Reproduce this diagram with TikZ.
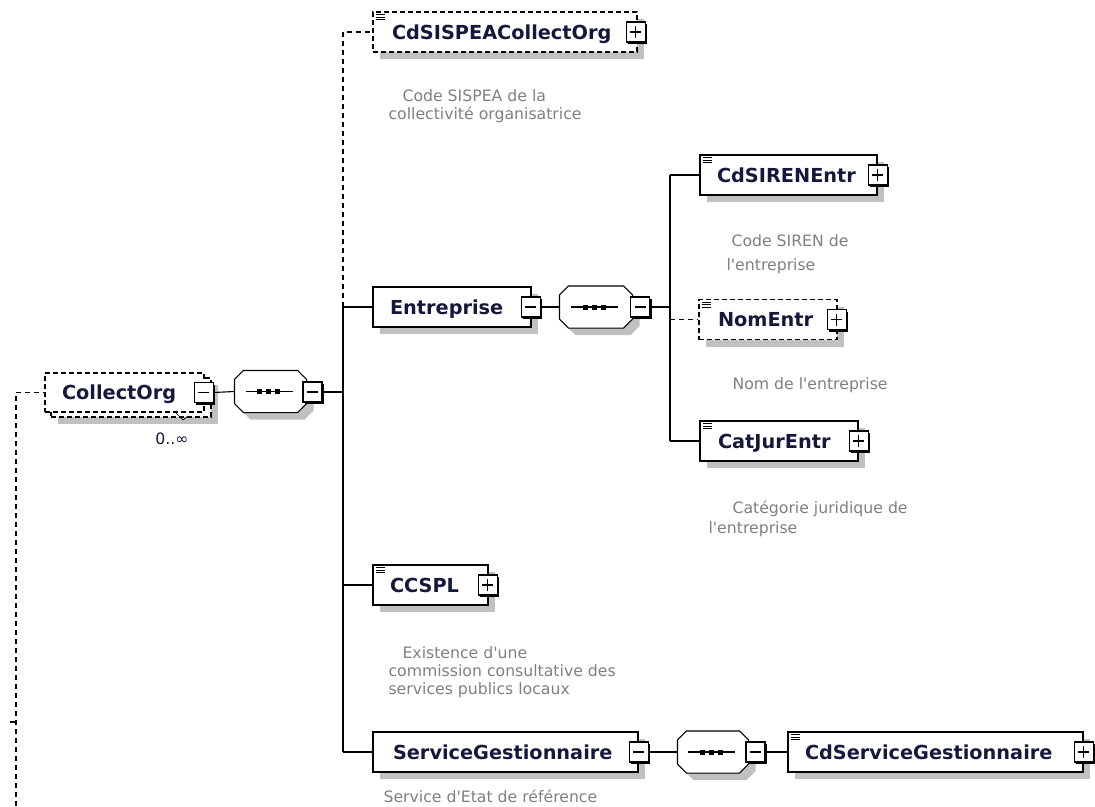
\documentclass[tikz,border=0pt]{standalone}
\usepackage{fontspec}
\setmainfont{DejaVu Sans}
\usetikzlibrary{shadows}
\definecolor{titleink}{RGB}{20,24,60}
\definecolor{noteink}{RGB}{128,128,128}
\definecolor{shadowgray}{RGB}{192,192,192}
\newcommand\eltfont{\bfseries\fontsize{19.3}{23}\selectfont}
\newcommand\notefont{\fontsize{15.7}{18}\selectfont}
\newcommand\apos{\textquotesingle}
\newcommand\seqoutline[1]{([xshift=9pt]#1.north west) -- ([xshift=-9pt]#1.north east) -- ([yshift=-9pt]#1.north east)
  -- ([yshift=9pt]#1.south east) -- ([xshift=-9pt]#1.south east) -- ([xshift=9pt]#1.south west)
  -- ([yshift=9pt]#1.south west) -- ([yshift=-9pt]#1.north west) -- cycle}

\begin{document}
\begin{tikzpicture}[x=1pt, y=-1pt, line width=1.1pt,
    shade7/.style={drop shadow={shadow xshift=7pt, shadow yshift=-7pt, fill=shadowgray, opacity=1}},
    box/.style={draw, fill=white, minimum height=40pt, inner sep=0pt},
    elt/.style={box, shade7},
    opt/.style={dash pattern=on 5pt off 3pt},
    optline/.style={dash pattern=on 5pt off 4pt},
    simpletype/.style={path picture={\foreach \yy in {2.5,5,7.5}
      \draw[solid, line width=0.8pt] ([xshift=3pt, yshift=-\yy pt]path picture bounding box.north west) -- ++(9,0);}},
    title/.style={anchor=west, inner sep=0pt, text height=14pt, text depth=0pt, font=\eltfont, text=titleink},
    note/.style={anchor=north west, inner sep=0pt, align=left, font=\notefont, text=noteink},
    mult/.style={inner sep=0pt, font=\notefont, text=titleink},
    tog/.style={draw, solid, fill=white, minimum width=19pt, minimum height=20pt, inner sep=0pt,
      drop shadow={shadow xshift=2pt, shadow yshift=-2pt, fill=black, opacity=1}},
    minusbox/.style={tog, path picture={\draw ([xshift=4pt]path picture bounding box.west) -- ([xshift=-4pt]path picture bounding box.east);}},
    plusbox/.style={tog, path picture={\draw ([xshift=4pt]path picture bounding box.west) -- ([xshift=-4pt]path picture bounding box.east);
      \draw ([yshift=-4pt]path picture bounding box.north) -- ([yshift=4pt]path picture bounding box.south);}},
    seq/.style={minimum height=41pt, inner sep=0pt}]
  \path[fill=white, use as bounding box] (0,0) rectangle (1095,806);

  \coordinate (lead) at (16,806);
  \node[elt, opt, minimum width=160pt, minimum height=39pt] (collback) at (131,397.5) {};
  \node[box, opt, minimum width=159pt, minimum height=39pt] (coll) at (124.5,392.5) {};
  \node[title] (coll-t) at ([xshift=17pt]coll.west) {CollectOrg};
  \node[minusbox] (coll-m) at ([xshift=-1pt]coll.east) {};
  \node[mult] (coll-n) at (172,439) {0..∞};
  \draw[line width=0.7pt] (176,413) -- (183,420) -- (188,416);
  \draw[optline] (lead) |- (coll.west);
  \draw (lead |- 0,722) -- ++(-6,0);

  \node[seq, minimum width=71pt] (s1) at (270.5,391.5) {};
  \coordinate (bus1) at (343,392);

  \node[elt, opt, simpletype, minimum width=264pt] (sispea) at (505,32) {};
  \node[title] (sispea-t) at ([xshift=19pt]sispea.west) {CdSISPEACollectOrg};
  \node[plusbox] (sispea-p) at ([xshift=-2pt]sispea.east) {};
  \node[note] (sispea-n) at (388,89.5) {\hspace*{14pt}Code SISPEA de la\\collectivité organisatrice};

  \node[elt, minimum width=158pt] (entr) at (452,307) {};
  \node[title] (entr-t) at ([xshift=17pt]entr.west) {Entreprise};
  \node[minusbox] (entr-m) at ([xshift=-1pt]entr.east) {};
  \node[seq, minimum width=72pt] (s2) at (596,307) {};
  \coordinate (bus2) at (670,307);

  \node[elt, simpletype, minimum width=177pt] (siren) at (788.5,175) {};
  \node[title] (siren-t) at ([xshift=17pt]siren.west) {CdSIRENEntr};
  \node[plusbox] (siren-p) at (siren.east) {};
  \node[note] (siren-n) at (726,234.5) {\hspace*{5pt}Code SIREN de\\[6pt]l\apos entreprise};

  \node[elt, opt, simpletype, minimum width=138pt] (nom) at (768,319.5) {};
  \node[title] (nom-t) at ([xshift=19pt]nom.west) {NomEntr};
  \node[plusbox] (nom-p) at ([xshift=-1pt]nom.east) {};
  \node[note] (nom-n) at (732,377.5) {Nom de l\apos entreprise};

  \node[elt, simpletype, minimum width=158pt] (catjur) at (779,441) {};
  \node[title] (catjur-t) at ([xshift=18pt]catjur.west) {CatJurEntr};
  \node[plusbox] (catjur-p) at (catjur.east) {};
  \node[note] (catjur-n) at (708,500.5) {\hspace*{24pt}Catégorie juridique de\\[2pt]l\apos entreprise};

  \node[elt, simpletype, minimum width=115pt] (ccspl) at (430.5,585) {};
  \node[title] (ccspl-t) at ([xshift=17pt]ccspl.west) {CCSPL};
  \node[plusbox] (ccspl-p) at ([xshift=-1pt]ccspl.east) {};
  \node[note] (ccspl-n) at (388,646.5) {\hspace*{14pt}Existence d\apos une\\commission consultative des\\services publics locaux};

  \node[elt, minimum width=265pt] (sg) at (505.5,752) {};
  \node[title] (sg-t) at ([xshift=20pt]sg.west) {ServiceGestionnaire};
  \node[minusbox] (sg-m) at (sg.east) {};
  \node[note] (sg-n) at (383,789.5) {Service d\apos Etat de référence};
  \node[seq, minimum width=70pt] (s3) at (713,752) {};

  \node[elt, simpletype, minimum width=295pt] (cdsg) at (935.5,752) {};
  \node[title] (cdsg-t) at ([xshift=17pt]cdsg.west) {CdServiceGestionnaire};
  \node[plusbox] (cdsg-p) at (cdsg.east) {};

  \foreach \sq in {s1,s2,s3} {
    \draw[fill=white, shade7] \seqoutline{\sq};
    \draw ([xshift=-25pt]\sq.center) -- ([xshift=22pt]\sq.center);
    \foreach \dx in {-11,-2,7}
      \fill ([shift={(\dx-2.5,-2.5)}]\sq.center) rectangle ++(5,5);
  }
  \node[minusbox] (s1-m) at (312.5,392) {};
  \node[minusbox] (s2-m) at (640,307) {};
  \node[minusbox] (s3-m) at (755.5,752) {};

  \draw (coll-m.east) -- (s1.west);
  \draw (s1-m.east) -- (bus1);
  \draw[optline] (bus1 |- entr.west) -- (bus1 |- sispea.west) -- (sispea.west);
  \draw (bus1 |- entr.west) -- (bus1 |- sg.west);
  \foreach \el in {entr,ccspl,sg}
    \draw (bus1 |- \el.west) -- (\el.west);
  \draw (entr-m.east) -- (s2.west);
  \draw (s2-m.east) -- (bus2);
  \draw (bus2 |- siren.west) -- (bus2 |- catjur.west);
  \foreach \el in {siren,catjur}
    \draw (bus2 |- \el.west) -- (\el.west);
  \draw[optline] (bus2 |- nom.west) -- (nom.west);
  \draw (sg-m.east) -- (s3.west);
  \draw (s3-m.east) -- (cdsg.west);
\end{tikzpicture}
\end{document}
